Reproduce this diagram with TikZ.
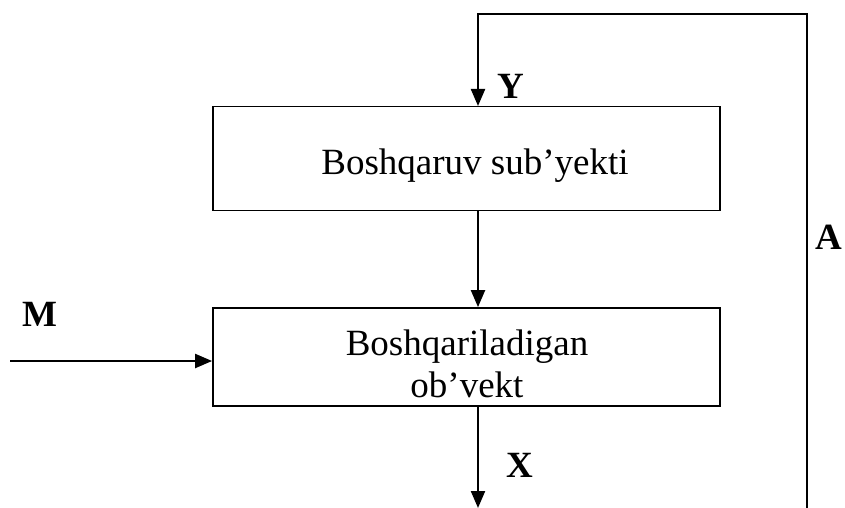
\documentclass[tikz,border=0pt]{standalone}
\usepackage{fontspec}
\setmainfont{Liberation Serif}
\usepackage{tikz}
\usetikzlibrary{arrows.meta}

\begin{document}
\begin{tikzpicture}[x=0.5pt,y=-0.5pt,
	blok/.style={draw,line width=0.9pt,rectangle,minimum width=253.5pt,minimum height=52pt,inner sep=0pt},
	matn/.style={font=\fontsize{18.5}{21}\selectfont,align=center,inner sep=0pt},
	harf/.style={font=\fontsize{18.5}{21}\selectfont\bfseries,inner sep=0pt},
	oq/.style={line width=1.1pt,-{Triangle[length=8.5pt,width=7pt]}}]
	\useasboundingbox (0,0) rectangle (845,508);

	\node[blok] (subj) at (466.5,158.5) {};
	\node[blok,minimum height=49pt] (obj) at (466.5,357) {};

	\node[matn] (subjmatn) at (475,166) {Boshqaruv sub’yekti};
	\node[matn] (objmatn) at (467,364) {Boshqariladigan\\ob’vekt};

	\coordinate (kirish) at (478,106);
	\coordinate (chiqish) at (478,508);
	\coordinate (pastki) at (807,520);
	\coordinate (yuqori) at (807,14);
	\coordinate (mkir) at (10,361);

	\draw[oq] (pastki) -- (yuqori) -| (kirish);
	\draw[oq] (subj.south -| kirish) -- (obj.north -| kirish);
	\draw[oq] (obj.south -| kirish) -- (chiqish);
	\draw[oq] (mkir) -- (mkir -| obj.west);

	\node[harf] (y) at (511,86) {Y};
	\node[harf] (x) at (520,465) {X};
	\node[harf] (m) at (40,314) {M};
	\node[harf] (a) at (829,237) {A};
\end{tikzpicture}
\end{document}
